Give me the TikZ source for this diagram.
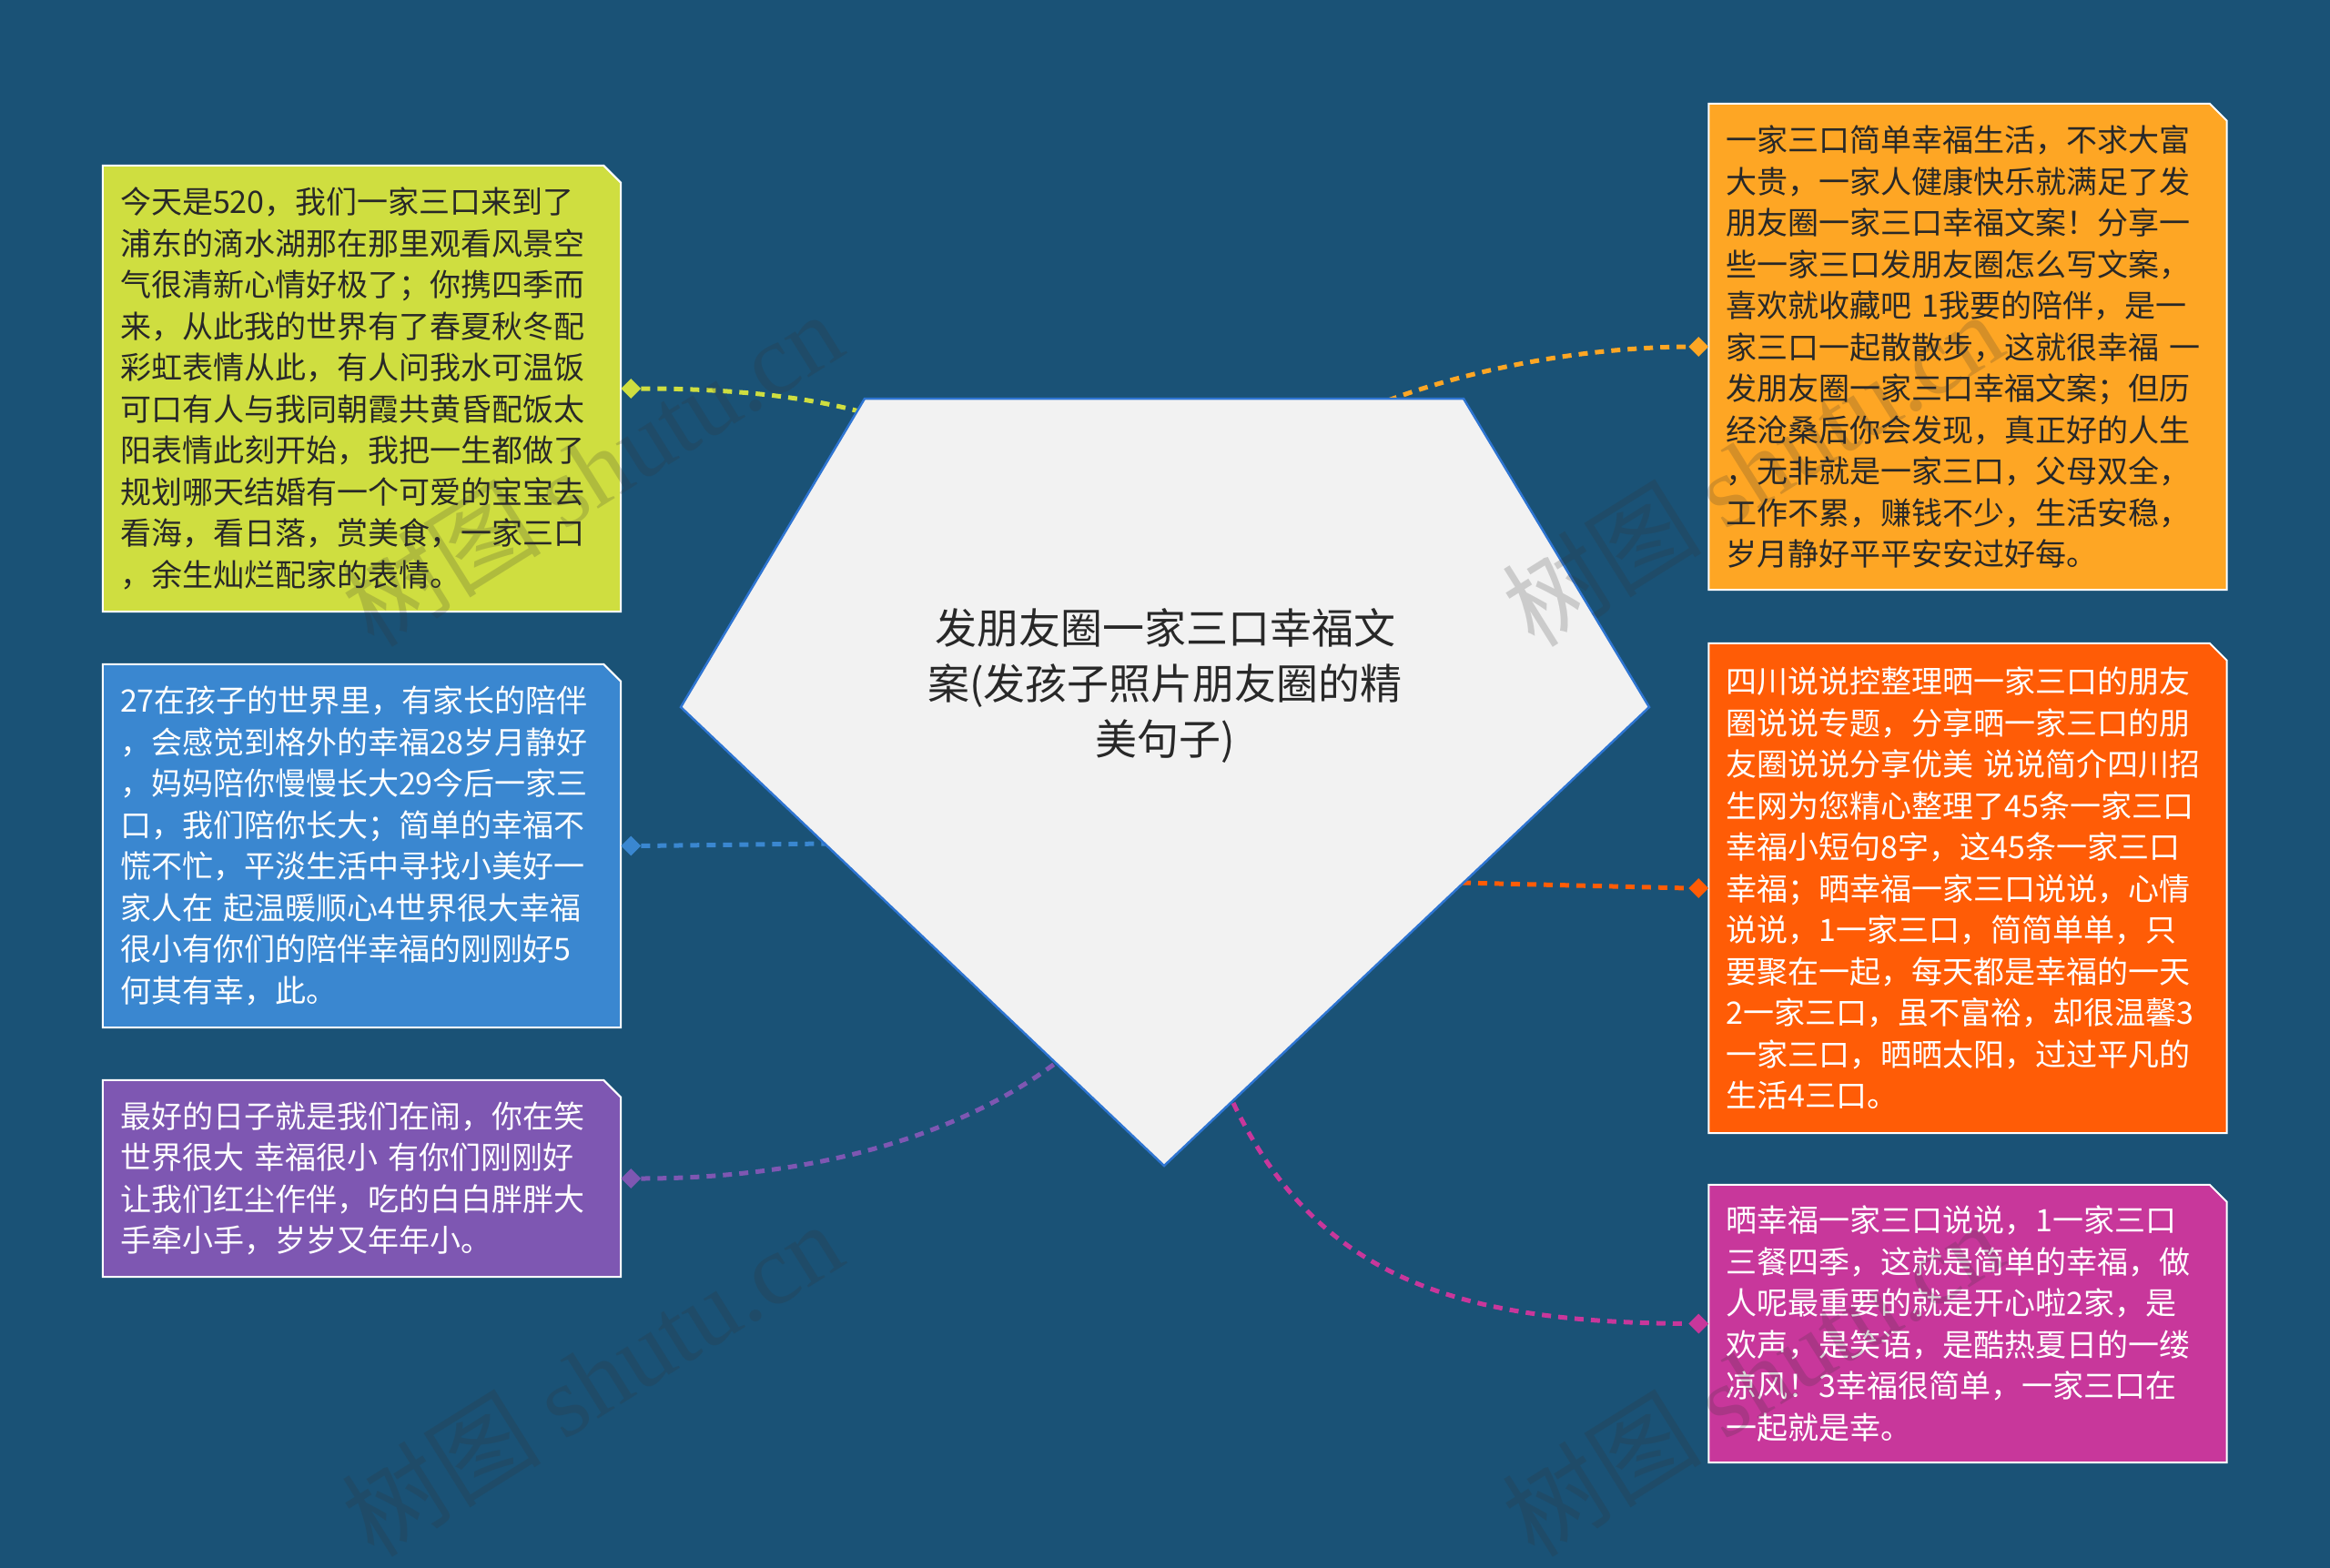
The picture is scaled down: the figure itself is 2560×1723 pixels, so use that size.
\documentclass[tikz,border=0pt]{standalone}
\usepackage{fontspec}
\setmainfont{Noto Sans CJK SC}
\newfontfamily\wmfont{Liberation Serif}
\usetikzlibrary{shapes.geometric}
\pgfdeclarelayer{bg}
\pgfdeclarelayer{fg}
\pgfsetlayers{bg,main,fg}

\definecolor{bgc}{RGB}{26,82,118}
\definecolor{clime}{RGB}{207,222,64}
\definecolor{corange}{RGB}{254,166,36}
\definecolor{cred}{RGB}{255,92,6}
\definecolor{cblue}{RGB}{58,135,208}
\definecolor{cpurple}{RGB}{126,87,178}
\definecolor{cmag}{RGB}{200,55,155}
\definecolor{ptfill}{RGB}{242,242,242}
\definecolor{ptline}{RGB}{46,117,210}
\definecolor{darktext}{RGB}{40,40,40}

\tikzset{
  card/.style={rectangle, minimum width=569pt, inner xsep=19pt, inner ysep=0pt,
    text width=531pt, align=left, font=\fontsize{34}{45.5}\selectfont},
  dia/.style={diamond, minimum width=22pt, minimum height=22pt, inner sep=0pt, fill=#1},
  link/.style={draw=#1, line width=5pt, dash pattern=on 10pt off 8pt},
  wm/.style={rotate=32, text=black!80, opacity=0.2, font=\fontsize{110}{110}\selectfont}
}
\newcommand\cardbg[2]{%
  \begin{pgfonlayer}{bg}
  \fill[#2, draw=white, line width=2pt] (#1.south west) -- (#1.north west)
    -- ([xshift=-19pt]#1.north east) -- ([yshift=-19pt]#1.north east)
    -- (#1.south east) -- cycle;
  \end{pgfonlayer}}

\begin{document}
\begin{tikzpicture}[x=1pt,y=-1pt]
\begin{pgfonlayer}{bg}
\fill[bgc] (0,0) rectangle (2560,1723);
\end{pgfonlayer}
\useasboundingbox (0,0) rectangle (2560,1723);

% cards
\node[card, minimum height=490pt, text=darktext] (b1) at (397.5,427) {今天是520，我们一家三口来到了\\浦东的滴水湖那在那里观看风景空\\气很清新心情好极了；你携四季而\\来，从此我的世界有了春夏秋冬配\\彩虹表情从此，有人问我水可温饭\\可口有人与我同朝霞共黄昏配饭太\\阳表情此刻开始，我把一生都做了\\规划哪天结婚有一个可爱的宝宝去\\看海，看日落，赏美食，一家三口\\，余生灿烂配家的表情。};
\cardbg{b1}{clime}

\node[card, minimum width=568pt, minimum height=534pt, text=darktext] (b2) at (2162,381) {一家三口简单幸福生活，不求大富\\大贵，一家人健康快乐就满足了发\\朋友圈一家三口幸福文案！分享一\\些一家三口发朋友圈怎么写文案，\\喜欢就收藏吧~1我要的陪伴，是一\\家三口一起散散步，这就很幸福~一\\发朋友圈一家三口幸福文案；但历\\经沧桑后你会发现，真正好的人生\\，无非就是一家三口，父母双全，\\工作不累，赚钱不少，生活安稳，\\岁月静好平平安安过好每。};
\cardbg{b2}{corange}

\node[card, minimum height=399pt, text=white] (b3) at (397.5,929.5) {27在孩子的世界里，有家长的陪伴\\，会感觉到格外的幸福28岁月静好\\，妈妈陪你慢慢长大29今后一家三\\口，我们陪你长大；简单的幸福不\\慌不忙，平淡生活中寻找小美好一\\家人在~起温暖顺心4世界很大幸福\\很小有你们的陪伴幸福的刚刚好5\\何其有幸，此。};
\cardbg{b3}{cblue}

\node[card, minimum width=568pt, minimum height=538pt, text=white] (b4) at (2162,976) {四川说说控整理晒一家三口的朋友\\圈说说专题，分享晒一家三口的朋\\友圈说说分享优美~说说简介四川招\\生网为您精心整理了45条一家三口\\幸福小短句8字，这45条一家三口\\幸福；晒幸福一家三口说说，心情\\说说，1一家三口，简简单单，只\\要聚在一起，每天都是幸福的一天\\2一家三口，虽不富裕，却很温馨3\\一家三口，晒晒太阳，过过平凡的\\生活4三口。};
\cardbg{b4}{cred}

\node[card, minimum height=216pt, text=white] (b5) at (397.5,1295) {最好的日子就是我们在闹，你在笑\\世界很大~幸福很小~有你们刚刚好\\让我们红尘作伴，吃的白白胖胖大\\手牵小手，岁岁又年年小。};
\cardbg{b5}{cpurple}

\node[card, minimum width=568pt, minimum height=305pt, text=white] (b6) at (2162,1454.5) {晒幸福一家三口说说，1一家三口\\三餐四季，这就是简单的幸福，做\\人呢最重要的就是开心啦2家，是\\欢声，是笑语，是酷热夏日的一缕\\凉风！3幸福很简单，一家三口在\\一起就是幸。};
\cardbg{b6}{cmag}

% diamonds
\node[dia=clime] (d1) at ([xshift=11pt]b1.east) {};
\node[dia=corange] (d2) at ([xshift=-11pt]b2.west) {};
\node[dia=cblue] (d3) at ([xshift=11pt]b3.east) {};
\node[dia=cred] (d4) at ([xshift=-11pt]b4.west) {};
\node[dia=cpurple] (d5) at ([xshift=11pt]b5.east) {};
\node[dia=cmag] (d6) at ([xshift=-11pt]b6.west) {};

% ends on the pentagon
\coordinate (p1) at (944,452);
\coordinate (p2) at (1525,440);
\coordinate (p3) at (908,927);
\coordinate (p4) at (1606,970);
\coordinate (p5) at (1160,1168);
\coordinate (p6) at (1355,1212);

% connectors
\draw[link=clime] (d1.east) .. controls (800,427) and (880,435) .. (p1);
\draw[link=corange] (p2) .. controls (1600,412) and (1720,382) .. (d2.west);
\draw[link=cblue] (d3.east) -- (p3);
\draw[link=cred] (p4) -- (d4.west);
\draw[link=cpurple] (d5.east) .. controls (853,1295) and (1030,1265) .. (p5);
\draw[link=cmag] (p6) .. controls (1450,1410) and (1610,1453) .. (d6.west);

% central pentagon
\coordinate (vtl) at (950,438);
\coordinate (vtr) at (1608,438);
\coordinate (vr) at (1812,777);
\coordinate (vb) at (1279,1281);
\coordinate (vl) at (748,777);
\filldraw[fill=ptfill, draw=ptline, line width=2.5pt] (vtl) -- (vtr) -- (vr) -- (vb) -- (vl) -- cycle;
\node[font=\fontsize{46}{61}\selectfont, align=center, text=darktext] (title) at (1280,754) {发朋友圈一家三口幸福文\\案(发孩子照片朋友圈的精\\美句子)};

% watermarks
\begin{pgfonlayer}{fg}
\node[wm] (w1) at (650,515) {树图 {\wmfont shutu.cn}};
\node[wm] (w2) at (1925,515) {树图 {\wmfont shutu.cn}};
\node[wm] (w3) at (650,1515) {树图 {\wmfont shutu.cn}};
\node[wm] (w4) at (1925,1515) {树图 {\wmfont shutu.cn}};
\end{pgfonlayer}
\end{tikzpicture}
\end{document}
